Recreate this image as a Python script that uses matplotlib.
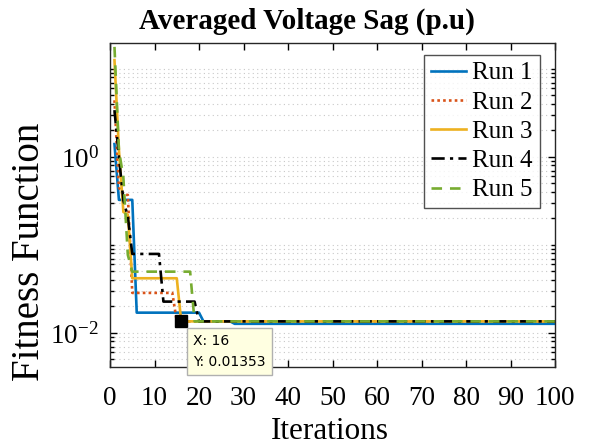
import numpy as np
import matplotlib
matplotlib.use("Agg")
import matplotlib.pyplot as plt
from matplotlib.ticker import FixedLocator, NullFormatter, FixedFormatter

plt.rcParams['font.family'] = ['Liberation Serif', 'DejaVu Serif']
plt.rcParams['mathtext.fontset'] = 'custom'
plt.rcParams['mathtext.rm'] = 'Liberation Serif'
plt.rcParams['mathtext.it'] = 'Liberation Serif:italic'

iterations = np.arange(1, 101)
run1 = [1.40] + [0.325] * 4 + [0.017] * 15 + [0.01353] * 7 + [0.0127] * 73
run2 = [4.4, 0.45] + [0.37] * 2 + [0.0285] * 10 + [0.01353] * 86
run3 = [12.6, 1.2, 0.237, 0.22] + [0.0418] * 11 + [0.01353] * 85
run4 = [3.4, 1.0, 0.32, 0.21] + [0.079] * 7 + [0.0227] * 8 + [0.01353] * 81
run5 = [17.8, 1.2, 0.58, 0.077] + [0.0497] * 14 + [0.01353] * 82
run_labels = ["Run 1", "Run 2", "Run 3", "Run 4", "Run 5"]
tip_x, tip_y = 16, 0.01353
xticks = list(range(0, 101, 10))

colors = ["#0072BD", "#D95319", "#EDB120", "#000000", "#77AC30"]
styles = ["-", (0, (1, 1.2)), "-", (0, (5, 2, 1.2, 2)), (0, (4, 3))]

fig = plt.figure(figsize=(5.89, 4.46), dpi=100)
ax = fig.add_axes([0.1868, 0.1771, 0.7555, 0.7265])

for data, lab, c, ls in zip([run1, run2, run3, run4, run5], run_labels, colors, styles):
    ax.plot(iterations, data, color=c, linestyle=ls, linewidth=1.9, label=lab)

ax.set_yscale('log')
ax.set_xlim(0, 100)
ax.set_ylim(0.0041, 19.7)
ax.set_xticks(xticks)
ax.set_xticklabels([str(t) for t in xticks])
ax.yaxis.set_major_locator(FixedLocator([1e-2, 1e0]))
ax.yaxis.set_major_formatter(FixedFormatter([r'$\mathregular{10^{-2}}$', r'$\mathregular{10^{0}}$']))
minors = [m * 10.0 ** e for e in range(-3, 2) for m in range(1, 10)]
minors = [v for v in minors if v not in (1e-2, 1e0)]
ax.yaxis.set_minor_locator(FixedLocator(minors))
ax.yaxis.set_minor_formatter(NullFormatter())

ax.grid(True, which='both', axis='y', linestyle=(0, (1, 3)), color='#c8c8c8', linewidth=0.8)
ax.tick_params(which='both', direction='in', top=True, right=True, width=1.0)
ax.tick_params(which='major', length=5, labelsize=19.5)
ax.tick_params(axis='x', which='major', pad=14)
ax.tick_params(axis='y', which='major', pad=8)
ax.tick_params(which='minor', length=3)
for s in ax.spines.values():
    s.set_linewidth(1.0)
    s.set_color('#262626')

ax.set_title("Averaged Voltage Sag (p.u)", fontsize=21, fontweight='bold', pad=10, x=0.443)
ax.set_xlabel("Iterations", fontsize=22.5)
ax.xaxis.set_label_coords(0.494, -0.154)
ax.set_ylabel("Fitness Function", fontsize=28)
ax.yaxis.set_label_coords(-0.139, 0.355)

leg = ax.legend(loc='upper right', fontsize=18, frameon=True, fancybox=False,
                edgecolor='#262626', handlelength=1.4, handletextpad=0.25,
                labelspacing=0.27, borderpad=0.28, borderaxespad=0,
                bbox_to_anchor=(0.966, 0.963))
leg.get_frame().set_linewidth(1.0)

ax.plot([tip_x], [tip_y], marker='s', color='black', markersize=8, zorder=10)
ax.annotate(f"X: {tip_x}\nY: {tip_y}", xy=(tip_x, tip_y), xytext=(12, -13),
            textcoords='offset pixels', ha='left', va='top',
            fontsize=10, family='DejaVu Sans', linespacing=1.6,
            bbox=dict(boxstyle='square,pad=0.45', fc='#FFFFE1', ec='#b0b0b0', lw=1.0),
            zorder=11)

fig.savefig("out.png", dpi=100)
